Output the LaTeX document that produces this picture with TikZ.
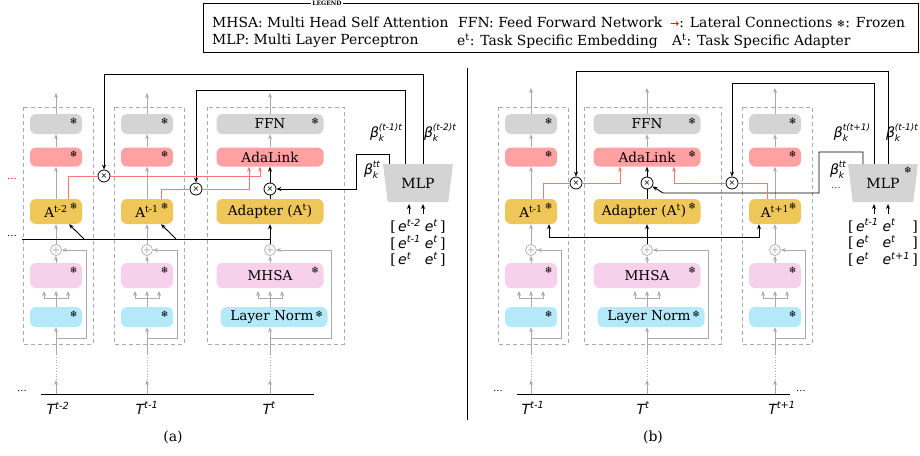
\documentclass[tikz,border=0pt]{standalone}
\usepackage{fontspec}
\usepackage{xcolor}
\usepackage{tikz}
\usetikzlibrary{positioning,arrows.meta,shapes.geometric,calc}

\setmainfont{DejaVu Serif}
\newfontfamily\dv{DejaVu Sans}

\definecolor{ffnc}{RGB}{212,212,212}
\definecolor{adac}{RGB}{255,160,162}
\definecolor{adpc}{RGB}{239,198,88}
\definecolor{attc}{RGB}{247,209,235}
\definecolor{lnc}{RGB}{180,233,249}
\definecolor{latc}{RGB}{246,118,118}
\definecolor{grc}{RGB}{170,170,170}

\newcommand{\snow}{{\dv ❄}}
\newcommand{\bk}[1]{{\dv\itshape β\rlap{\raisebox{-4pt}{\fontsize{9}{9}\selectfont k}}\raisebox{7pt}{\fontsize{9}{9}\selectfont #1}}}
\newcommand{\ee}[1]{{\dv\itshape e}\textsuperscript{\dv\itshape #1}}
\newcommand{\tk}[1]{{\dv\itshape T}\textsuperscript{\dv\itshape #1}}

\begin{document}
\begin{tikzpicture}[x=1pt, y=-1pt,
    every node/.style={font=\fontsize{14}{17}\selectfont},
    blk/.style={rounded corners=6pt, inner sep=0pt, align=center, font=\fontsize{13.6}{16}\selectfont},
    nb/.style={blk, minimum width=52pt},
    wb/.style={blk, minimum width=107pt},
    ffn/.style={fill=ffnc, minimum height=20pt},
    ada/.style={fill=adac, minimum height=19pt},
    adp/.style={fill=adpc, minimum height=25pt},
    att/.style={fill=attc, minimum height=25pt},
    lnm/.style={fill=lnc, minimum height=20pt},
    frz/.style={label={[anchor=center, xshift=-8.5pt, yshift=-7pt, inner sep=0pt,
                font=\fontsize{9}{9}\selectfont]north east:\snow}},
    mul/.style={circle, draw, line width=0.8pt, minimum size=12pt, inner sep=0pt,
                font=\dv\fontsize{8}{8}\selectfont},
    add/.style={circle, draw=grc, text=grc, line width=0.7pt, minimum size=11pt,
                inner sep=0pt, font=\dv\fontsize{10}{10}\selectfont},
    mlp/.style={trapezium, shape border rotate=180, trapezium angle=76,
                trapezium stretches=true, fill=ffnc, minimum width=70pt,
                minimum height=38pt, inner sep=0pt},
    emb/.style={inner sep=3pt, font=\fontsize{14}{15}\selectfont},
    colfr/.style={draw=grc, dash pattern=on 4pt off 3pt, line width=0.8pt},
    garr/.style={draw=grc, line width=0.8pt, -{Stealth[length=5pt, width=4pt]}},
    gln/.style={draw=grc, line width=0.8pt},
    barr/.style={line width=0.9pt, -{Stealth[length=5pt, width=4pt]}},
    bln/.style={line width=0.9pt},
    rarr/.style={draw=latc, line width=0.9pt, -{Stealth[length=5pt, width=4pt]}},
    rln/.style={draw=latc, line width=0.9pt},
    lg/.style={anchor=west, inner sep=0pt, font=\fontsize{13.9}{17}\selectfont},
    dts/.style={inner sep=0pt, font=\fontsize{10}{10}\selectfont}
  ]
  \useasboundingbox (0,0) rectangle (920,455);

  % ---------------- legend ----------------
  \node[draw, line width=0.8pt, minimum width=715pt, minimum height=49pt,
        anchor=north west, inner sep=0pt] (leg) at (203,3) {};
  \node[fill=white, inner sep=1pt, font=\fontsize{6}{6}\selectfont\bfseries] (legt) at (327,3) {LEGEND};
  \node[lg] (lg1) at (212,22) {MHSA: Multi Head Self Attention};
  \node[lg] (lg2) at (458,22) {FFN: Feed Forward Network};
  \node[lg] (lg3) at (670,22) {{\color{red}\dv\fontsize{11}{11}\selectfont →}: Lateral Connections {\fontsize{10}{10}\selectfont\snow}: Frozen};
  \node[lg] (lg4) at (212,41) {MLP: Multi Layer Perceptron};
  \node[lg] (lg5) at (457,41) {e\textsuperscript{t}: Task Specific Embedding};
  \node[lg] (lg6) at (672,41) {A\textsuperscript{t}: Task Specific Adapter};

  % ---------------- narrow columns ----------------
  \foreach \cx/\nm/\alab/\ty in {56/a1/{A\textsuperscript{t-2}}/93, 147/a2/{A\textsuperscript{t-1}}/93,
                                  531/b1/{A\textsuperscript{t-1}}/88, 775/b3/{A\textsuperscript{t+1}}/88}{
    \draw[colfr] (\cx-33,107) rectangle (\cx+37,344);
    \node[nb, ffn, frz] (\nm-ffn) at (\cx,124) {};
    \node[nb, ada, frz] (\nm-ada) at (\cx,157) {};
    \node[nb, adp, frz] (\nm-adp) at (\cx,211.5) {\alab};
    \node[add] (\nm-add) at (\cx,250) {+};
    \node[nb, att, frz] (\nm-att) at (\cx,275.5) {};
    \node[nb, lnm, frz] (\nm-ln) at (\cx,317) {};
    \coordinate (\nm-t) at (\cx,394);
    \coordinate (\nm-d1) at (\cx,380);
    \coordinate (\nm-d2) at (\cx,355);
    \coordinate (\nm-s) at (\cx,338);
    \coordinate (\nm-f) at (\cx,298);
    \coordinate (\nm-o) at (\cx,\ty);
    \draw[garr] (\nm-t) -- (\nm-d1);
    \draw[gln, dotted] (\nm-d1) -- (\nm-d2);
    \draw[garr] (\nm-d2) -- (\nm-ln);
    \draw[garr] (\nm-s) -- ++(30,0) |- (\nm-add);
    \draw[gln] (\nm-ln) -- (\nm-f);
    \foreach \dx in {-12,0,12}
      \draw[garr] (\nm-f) -| ($(\nm-f)+(\dx,-7)$);
    \draw[garr] (\nm-att) -- (\nm-add);
    \draw[garr] (\nm-add) -- (\nm-adp);
    \draw[garr] (\nm-adp) -- (\nm-ada);
    \draw[garr] (\nm-ada) -- (\nm-ffn);
    \draw[garr] (\nm-ffn) -- (\nm-o);
  }

  % ---------------- wide columns ----------------
  \foreach \cx/\nm/\ty/\fz/\pad in {270/A/93/{}/0, 647/B/88/frz/6}{
    \draw[colfr] (\cx-63,107) rectangle (\cx+74,344);
    \node[wb, ffn, frz] (\nm-ffn) at (\cx,124) {FFN};
    \node[wb, ada, \fz] (\nm-ada) at (\cx,157) {AdaLink};
    \node[wb, adp, \fz] (\nm-adp) at (\cx,211.5) {Adapter (A\textsuperscript{t})\hspace*{\pad pt}};
    \node[add] (\nm-add) at (\cx,250) {+};
    \node[wb, att, frz] (\nm-att) at (\cx,275.5) {MHSA};
    \node[wb, lnm, frz] (\nm-ln) at (\cx+4,317) {Layer Norm\hspace*{4pt}};
    \coordinate (\nm-t) at (\cx,394);
    \coordinate (\nm-d1) at (\cx,380);
    \coordinate (\nm-d2) at (\cx,355);
    \coordinate (\nm-s) at (\cx,338);
    \coordinate (\nm-f) at (\cx,298);
    \coordinate (\nm-o) at (\cx,\ty);
    \draw[garr] (\nm-t) -- (\nm-d1);
    \draw[gln, dotted] (\nm-d1) -- (\nm-d2);
    \draw[garr] (\nm-d2) -- (\nm-d2 |- \nm-ln.south);
    \draw[garr] (\nm-s) -- ++(61,0) |- (\nm-add);
    \draw[gln] (\nm-ln.north -| \nm-f) -- (\nm-f);
    \foreach \dx in {-12,0,12}
      \draw[garr] (\nm-f) -| ($(\nm-f)+(\dx,-7)$);
    \draw[garr] (\nm-att) -- (\nm-add);
    \draw[barr] (\nm-add) -- (\nm-adp);
    \draw[garr] (\nm-ada) -- (\nm-ffn);
    \draw[garr] (\nm-ffn) -- (\nm-o);
  }

  % ---------------- (a) ----------------
  \node[mul] (m1) at (104,176) {×};
  \node[mul] (m2) at (196,189) {×};
  \node[mul] (m3) at (270,189) {×};
  \node[mlp] (mlpA) at (418,183) {MLP};
  \node[emb] (embA) at (418,244) {\begin{tabular}{@{}l@{\;}l@{\,}l@{}}
      {[}\,\ee{t-2} & \ee{t} & {]}\\ {[}\,\ee{t-1} & \ee{t} & {]}\\ {[}\,\ee{t} & \ee{t} & {]}\end{tabular}};
  \draw[barr] ([xshift=-9pt,yshift=2pt]embA.north) -- ($(mlpA.center)+(-9,21)$);
  \draw[barr] ([xshift=5pt,yshift=2pt]embA.north) -- ($(mlpA.center)+(5,21)$);

  \draw[barr] ($(mlpA.center)+(5,-19)$) -- ++(0,-90) -| (m1);
  \draw[barr] ($(mlpA.center)+(-13,-19)$) -- ++(0,-74) -| (m2);
  \draw[barr] ($(mlpA.center)+(-29,-19)$) -- ++(0,-10) -| ($(m3)+(86,0)$) -- (m3);
  \node (bA1) at (386,133) {\bk{(t-1)t}};
  \node (bA2) at (440,133) {\bk{(t-2)t}};
  \node (bA0) at (372,170) {\bk{tt}};

  \draw[rln] ([xshift=12pt]a1-adp.north) |- (m1);
  \draw[rarr] (m1) -| ([xshift=-10pt]A-ada.south);
  \draw[rln] ([xshift=14pt]a2-adp.north) |- (m2);
  \draw[rarr] (m2) -| ([xshift=-21pt]A-ada.south);

  \draw[bln] (A-adp) -- (m3);
  \draw[barr] (m3) -- (A-ada);
  \coordinate (jA) at (22,239);
  \draw[bln] (jA) -- (A-add |- jA);
  \draw[barr] ($(a1-adp.south |- jA)+(28,0)$) -- ([xshift=13pt]a1-adp.south);
  \draw[barr] ($(a2-adp.south |- jA)+(29,0)$) -- ([xshift=14pt]a2-adp.south);

  \node[dts, text=red] (dA1) at (12,179) {...};
  \node[dts] (dA2) at (12,236) {...};
  \node[dts] (dA3) at (22,391) {...};
  \coordinate (tlA0) at (41,394);
  \coordinate (tlA1) at (314,394);
  \draw[bln] (tlA0) -- (tlA1);
  \node (TA1) at (58,408) {\tk{t-2}};
  \node (TA2) at (147,408) {\tk{t-1}};
  \node (TA3) at (269,408) {\tk{t}};
  \node (capA) at (173,437) {(a)};

  % separator
  \coordinate (sep0) at (467,68);
  \coordinate (sep1) at (467,420);
  \draw[bln] (sep0) -- (sep1);

  % ---------------- (b) ----------------
  \node[mul] (m4) at (576,183) {×};
  \node[mul] (m5) at (647,183) {×};
  \node[mul] (m6) at (732,183) {×};
  \node[mlp] (mlpB) at (883,183) {MLP};
  \node[font=\fontsize{9}{9}\selectfont] (mlpBs) at (908,170) {\snow};
  \node[emb] (embB) at (883,244) {\begin{tabular}{@{}l@{\;}l@{\,}l@{}}
      {[}\,\ee{t-1} & \ee{t} & {]}\\ {[}\,\ee{t} & \ee{t} & {]}\\ {[}\,\ee{t} & \ee{t+1} & {]}\end{tabular}};
  \draw[barr] ([xshift=-9pt,yshift=2pt]embB.north) -- ($(mlpB.center)+(-9,21)$);
  \draw[barr] ([xshift=5pt,yshift=2pt]embB.north) -- ($(mlpB.center)+(5,21)$);

  \draw[barr] ($(mlpB.center)+(5,-19)$) -- ++(0,-93) -| (m4);
  \draw[barr] ($(mlpB.center)+(-9,-19)$) -- ++(0,-81) -| (m6);
  \coordinate (ttB1) at (819,193);
  \coordinate (ttB2) at (663,193);
  \draw[barr] ($(mlpB.center)+(-20,-19)$) -- ++(0,-12) -| (ttB1) -- (ttB2) -- (m5);
  \node (bB1) at (852,133) {\bk{t(t+1)}};
  \node (bB2) at (902,133) {\bk{(t-1)t}};
  \node (bB0) at (838,170) {\bk{tt}};

  \draw[rln] ([xshift=12pt]b1-adp.north) |- (m4);
  \draw[rarr] (m4) -| ([xshift=-27pt]B-ada.south);
  \draw[rln] ([xshift=-8pt]b3-adp.north) |- (m6);
  \draw[rarr] (m6) -| ([xshift=27pt]B-ada.south);

  \draw[bln] (B-adp) -- (m5);
  \draw[barr] (m5) -- (B-ada);
  \coordinate (jB) at (647,237);
  \draw[barr] (jB) -| ([xshift=18pt]b1-adp.south);
  \draw[barr] (jB) -| ([xshift=-16pt]b3-adp.south);

  \node[dts, text=red] (dB1) at (836,188) {...};
  \node[dts] (dB2) at (498,391) {...};
  \node[dts] (dB3) at (801,391) {...};
  \coordinate (tlB0) at (517,394);
  \coordinate (tlB1) at (790,394);
  \draw[bln] (tlB0) -- (tlB1);
  \node (TB1) at (533,408) {\tk{t-1}};
  \node (TB2) at (643,408) {\tk{t}};
  \node (TB3) at (782,408) {\tk{t+1}};
  \node (capB) at (653,437) {(b)};
\end{tikzpicture}
\end{document}
